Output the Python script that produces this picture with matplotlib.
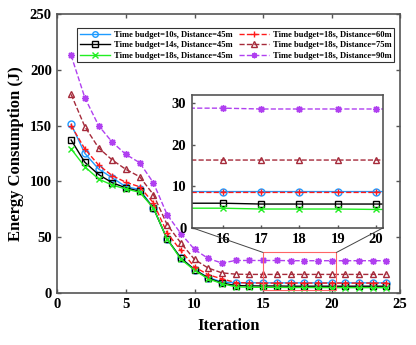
import numpy as np
import matplotlib
matplotlib.use("Agg")
import matplotlib.pyplot as plt
from matplotlib.patches import Rectangle, ConnectionPatch

plt.rcParams["font.family"] = ["Liberation Serif", "DejaVu Serif"]
plt.rcParams["font.weight"] = "bold"

iters = np.arange(1, 25)
labels = ["Time budget=10s, Distance=45m", "Time budget=14s, Distance=45m",
          "Time budget=18s, Distance=45m", "Time budget=18s, Distance=60m",
          "Time budget=18s, Distance=75m", "Time budget=18s, Distance=90m"]
e_10s_45 = [151, 125, 111, 103, 95, 92.6, 76, 48, 31, 20.7, 13.5, 9.5,
            8.8, 8.8, 8.7, 8.7, 8.7, 8.7, 8.7, 8.7, 8.7, 8.7, 8.7, 8.7]
e_14s_45 = [137, 117, 106, 98.6, 94, 91, 76, 48, 31, 20.5, 13, 8.6,
            6.3, 6.0, 5.9, 5.9, 5.7, 5.7, 5.7, 5.7, 5.7, 5.7, 5.7, 5.7]
e_18s_45 = [129, 113, 102, 96.5, 93, 90, 76, 48, 30, 20, 12.3, 8.0,
            5.2, 4.8, 4.7, 4.7, 4.5, 4.5, 4.5, 4.4, 4.4, 4.4, 4.4, 4.4]
e_18s_60 = [150, 129, 114.5, 105, 99, 95, 80.6, 53.6, 37.8, 23, 16, 12.3,
            9.0, 8.6, 8.5, 8.5, 8.5, 8.5, 8.5, 8.5, 8.5, 8.5, 8.5, 8.5]
e_18s_75 = [178, 149, 130, 119, 110.6, 104, 88, 61, 44.6, 29.7, 22, 17.7,
            16.5, 16.3, 16.3, 16.3, 16.3, 16.3, 16.3, 16.3, 16.3, 16.3, 16.3, 16.3]
e_18s_90 = [213, 175, 150, 135, 124, 116.6, 98.6, 70, 53, 38.7, 30.6, 26.5,
            28.8, 28.8, 28.8, 28.8, 28.6, 28.6, 28.6, 28.6, 28.6, 28.6, 28.6, 28.6]
series = [e_10s_45, e_14s_45, e_18s_45, e_18s_60, e_18s_75, e_18s_90]

BLUE, BLACK, GREEN = "#1E9BFF", "#000000", "#22EE22"
RED, BROWN, PURPLE = "#FF1A1A", "#A52A3A", "#B040F0"
AXC = "#555555"
styles = [
    dict(color=BLUE, ls="-", marker="o", mfc="none"),
    dict(color=BLACK, ls="-", marker="s", mfc="none"),
    dict(color=GREEN, ls="-", marker="x"),
    dict(color=RED, ls="--", marker="+"),
    dict(color=BROWN, ls="--", marker="^", mfc="none"),
    dict(color=PURPLE, ls="--", marker=(8, 2, 0)),
]


def style_axes(a, size):
    for s in a.spines.values():
        s.set_color(AXC)
        s.set_linewidth(1.2)
    a.tick_params(direction="in", colors=AXC, labelcolor="black", labelsize=size,
                  length=3, width=1.0, pad=4)
    for t in a.get_xticklabels() + a.get_yticklabels():
        t.set_fontweight("bold")


fig = plt.figure(figsize=(4.16, 3.45), dpi=100)
ax = fig.add_axes([0.138, 0.152, 0.824, 0.807])
for y, lab, st in zip(series, labels, styles):
    ax.plot(iters, y, lw=1.0, ms=5, mew=1.0, label=lab, **st)
ax.set_xlim(0, 25)
ax.set_ylim(0, 250)
ax.set_xticks([0, 5, 10, 15, 20, 25])
ax.set_yticks([0, 50, 100, 150, 200, 250])
ax.tick_params(top=True, right=True)
style_axes(ax, 10.5)
ax.set_xlabel("Iteration", fontsize=12, fontweight="bold", labelpad=5)
ax.set_ylabel("Energy Consumption (J)", fontsize=12, fontweight="bold", labelpad=4)
leg = ax.legend(ncol=2, loc="upper right", frameon=True, fancybox=False,
                edgecolor="black", handlelength=3.5, columnspacing=0.8,
                borderpad=0.3, labelspacing=0.3, handletextpad=0.5,
                markerscale=0.8, bbox_to_anchor=(0.983, 0.95), borderaxespad=0,
                prop={"weight": "bold", "size": 6.1})
leg.get_frame().set_linewidth(0.8)

# zoom rectangle on the main axes
ax.add_patch(Rectangle((15, 2), 5.35, 34, fill=False, ec="#FF6666", lw=0.8, zorder=5))

ins = fig.add_axes([0.4615, 0.34, 0.46, 0.385])
for y, st in zip(series, styles):
    ins.plot(iters, y, lw=1.0, ms=5, mew=1.0, **st)
ins.set_xlim(15.2, 20.19)
ins.set_ylim(0, 32)
ins.set_xticks([16, 17, 18, 19, 20])
ins.set_yticks([0, 10, 20, 30])
style_axes(ins, 10.5)
ins.tick_params(length=2)

for xa, xb in [(0, 15), (1, 20.35)]:
    con = ConnectionPatch(xyA=(xa, 0), coordsA=ins.transAxes, xyB=(xb, 36),
                          coordsB=ax.transData, color="#444444", lw=0.7)
    fig.add_artist(con)

fig.savefig("out.png", dpi=100)
